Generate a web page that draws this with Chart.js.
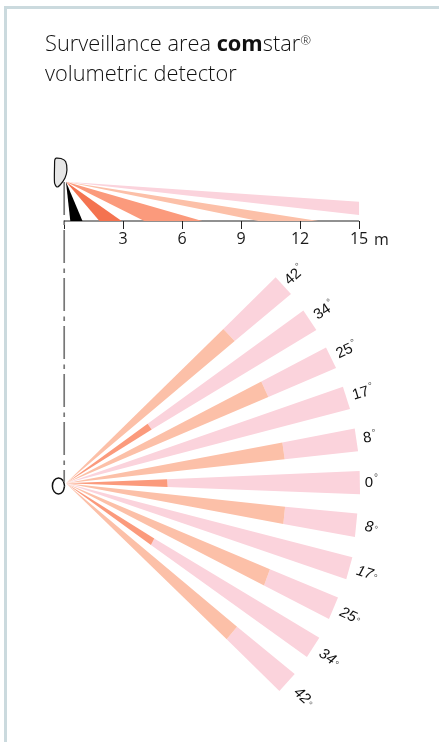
<!DOCTYPE html>
<html lang="en">
<head>
<meta charset="UTF-8">
<title>Surveillance area comstar</title>
<script src="https://cdn.jsdelivr.net/npm/chart.js"></script>
<style>
  html, body { margin: 0; padding: 0; background: #fff; overflow: hidden; }
  #wrap { position: relative; width: 439px; height: 742px; }
  #frame { position: absolute; left: 4px; top: 6px; right: 0; bottom: 0; border-left: 3px solid #cbdade; border-top: 3px solid #cbdade; }
  #title { position: absolute; left: 45px; top: 28px; font: 300 21.8px/30px "Open Sans", sans-serif; color: #111; white-space: nowrap; }
  #title b { font-weight: 700; }
  #title sup { font-size: 13px; line-height: 0; vertical-align: 6px; }
  canvas { position: absolute; left: 0; top: 0; }
</style>
</head>
<body>
<div id="wrap">
  <div id="frame"></div>
  <canvas id="chart" width="439" height="742"></canvas>
  <div id="title">Surveillance area <b>com</b>star<sup>®</sup><br>volumetric detector</div>
</div>
<script>
// everything in metres, side view above the floor, top view around the centre line
const distanceTicks = [0, 3, 6, 9, 12, 15];
const sideApex = [0.1, 2];
const sideBeams = [
  { color: '#000000', pts: [[0.32, 0], [0.94, 0]] },
  { color: '#f47350', pts: [[1.8, 0], [2.93, 0]] },
  { color: '#fb9a7c', pts: [[4.08, 0], [7.03, 0]] },
  { color: '#fcc0a8', pts: [[9.88, 0], [12.93, 0]] },
  { color: '#fbd3dc', pts: [[15, 0.98], [15, 0.3]] }
];

const angleLabels = [42, 34, 25, 17, 8, 0, -8, -17, -25, -34, -42];
const labelGaps = [15, 17, 17, 17, 13, 11, 15, 18, 18, 19, 22];
const topApex = [0.1, 0];
// outer end of each beam, two corners
const beamEnds = [
  [[10.76, 10.47], [11.54, 9.62]],
  [[12.17, 8.78], [12.83, 7.79]],
  [[13.32, 6.91], [13.83, 5.86]],
  [[14.18, 4.91], [14.54, 3.78]],
  [[14.78, 2.79], [14.95, 1.63]],
  [[15.03, 0.63], [15.05, -0.56]],
  [[14.91, -1.54], [14.79, -2.73]],
  [[14.66, -3.76], [14.35, -4.88]],
  [[13.93, -5.8], [13.47, -6.9]],
  [[12.98, -7.85], [12.35, -8.83]],
  [[11.73, -9.69], [10.95, -10.56]]
];
// where the pink part starts, null if the whole beam is pink
const beamJoins = [
  [[8.1, 7.84], [8.68, 7.23]],
  [[4.25, 3.03], [4.46, 2.74]],
  [[10.03, 5.18], [10.39, 4.39]],
  null,
  [[11.1, 2.08], [11.22, 1.22]],
  [[5.24, 0.2], [5.27, -0.19]],
  [[11.24, -1.19], [11.15, -2.07]],
  null,
  [[10.47, -4.37], [10.17, -5.2]],
  [[4.59, -2.8], [4.42, -3.14]],
  [[8.8, -7.29], [8.27, -7.93]]
];
const innerColors = ['#fcc0a8', '#fb9a7c', '#fcc0a8', null, '#fcc0a8', '#fb9a7c', '#fcc0a8', null, '#fcc0a8', '#fb9a7c', '#fcc0a8'];
const outerColor = '#fbd3dc';

const sensorSide = [[-0.42, 3.2], [-0.15, 3.18], [0.08, 3.02], [0.15, 2.59], [0.05, 2.19], [-0.2, 1.83], [-0.36, 1.73], [-0.48, 1.93], [-0.48, 2.85], [-0.47, 3.1]];
const sensorTop = [[0.03, -0.135], [-0.06, -0.425], [-0.28, -0.545], [-0.5, -0.425], [-0.59, -0.135], [-0.5, 0.155], [-0.28, 0.275], [-0.06, 0.155]];
const centreLine = [[0.01, 1.98], [0.01, -13.27]];

const pxPerMetre = 19.67, originX = 64, floorY = 221, centreY = 483.3, W = 439, H = 742;

const xy = p => ({ x: p[0], y: p[1] });
function shape(points, color, axis) {
  return { data: points.map(xy), yAxisID: axis, showLine: true, fill: 'shape', backgroundColor: color, borderWidth: 0, pointRadius: 0 };
}
function stroke(points, color, width, axis, dash) {
  return { data: points.map(xy), yAxisID: axis, showLine: true, fill: false, borderColor: color, borderWidth: width, borderDash: dash || [], pointRadius: 0 };
}

const datasets = [];
sideBeams.forEach(b => datasets.push(shape([sideApex, b.pts[0], b.pts[1]], b.color, 'ySide')));
beamEnds.forEach((end, i) => {
  const join = beamJoins[i];
  if (join) {
    datasets.push(shape([topApex, join[0], join[1]], innerColors[i], 'yTop'));
    datasets.push(shape([join[0], end[0], end[1], join[1]], outerColor, 'yTop'));
  } else {
    datasets.push(shape([topApex, end[0], end[1]], outerColor, 'yTop'));
  }
});
datasets.push(stroke([[0, 0], [15, 0]], '#222222', 1, 'ySide'));
datasets.push(stroke(centreLine, '#777777', 1.7, 'ySide', [33, 5.5, 4.5, 5]));
datasets.push(Object.assign(shape(sensorSide.concat([sensorSide[0]]), '#e6e6e6', 'ySide'), { borderColor: '#111', borderWidth: 1.2, tension: 0.25 }));
datasets.push(Object.assign(stroke(sensorTop.concat([sensorTop[0]]), '#111', 1.5, 'yTop'), { tension: 0.42 }));

// angle labels at the beam ends, and the metre unit after the last tick
const labelPlugin = {
  id: 'labelPlugin',
  afterDraw(chart) {
    const { ctx, scales } = chart;
    ctx.save();
    ctx.fillStyle = '#111';
    ctx.textBaseline = 'middle';
    beamEnds.forEach((end, i) => {
      const mx = scales.x.getPixelForValue((end[0][0] + end[1][0]) / 2);
      const my = scales.yTop.getPixelForValue((end[0][1] + end[1][1]) / 2);
      const rad = Math.atan2(my - centreY, mx - 66);
      const a = angleLabels[i];
      const num = String(Math.abs(a));
      ctx.save();
      ctx.translate(mx + Math.cos(rad) * labelGaps[i], my + Math.sin(rad) * labelGaps[i]);
      ctx.rotate(-a * Math.PI / 180);
      ctx.font = (a < 0 ? 'italic ' : '') + '15px "Liberation Sans"';
      const w = ctx.measureText(num).width;
      ctx.textAlign = 'left';
      ctx.fillText(num, -w / 2 - 2, 0);
      ctx.font = '10px "Liberation Sans"';
      ctx.fillStyle = '#555';
      ctx.fillText('°', w / 2 - 1, a < 0 ? 2 : -4);
      ctx.fillStyle = '#111';
      ctx.restore();
    });
    ctx.font = '16px "Open Sans"';
    ctx.textAlign = 'left';
    ctx.fillStyle = '#1a1a1a';
    ctx.fillText('m', scales.x.getPixelForValue(15) + 15, floorY + 19);
    ctx.restore();
  }
};

new Chart(document.getElementById('chart').getContext('2d'), {
  type: 'scatter',
  data: { datasets },
  options: {
    responsive: false,
    animation: false,
    layout: { padding: 0 },
    plugins: { legend: { display: false }, tooltip: { enabled: false } },
    scales: {
      x: {
        type: 'linear',
        position: { ySide: 0 },
        min: -originX / pxPerMetre,
        max: (W - originX) / pxPerMetre,
        afterBuildTicks(axis) { axis.ticks = distanceTicks.map(v => ({ value: v })); },
        border: { display: false },
        grid: { drawOnChartArea: false, drawTicks: true, tickLength: 8, color: '#222', lineWidth: 1 },
        ticks: { maxRotation: 0, autoSkip: false, padding: 1, color: '#1a1a1a', font: { family: 'Open Sans', size: 16 }, callback: v => (v === 0 ? '' : String(v)) }
      },
      ySide: { type: 'linear', display: false, min: -(H - floorY) / pxPerMetre, max: floorY / pxPerMetre },
      yTop: { type: 'linear', display: false, min: -(H - centreY) / pxPerMetre, max: centreY / pxPerMetre }
    }
  },
  plugins: [labelPlugin]
});
</script>
</body>
</html>
